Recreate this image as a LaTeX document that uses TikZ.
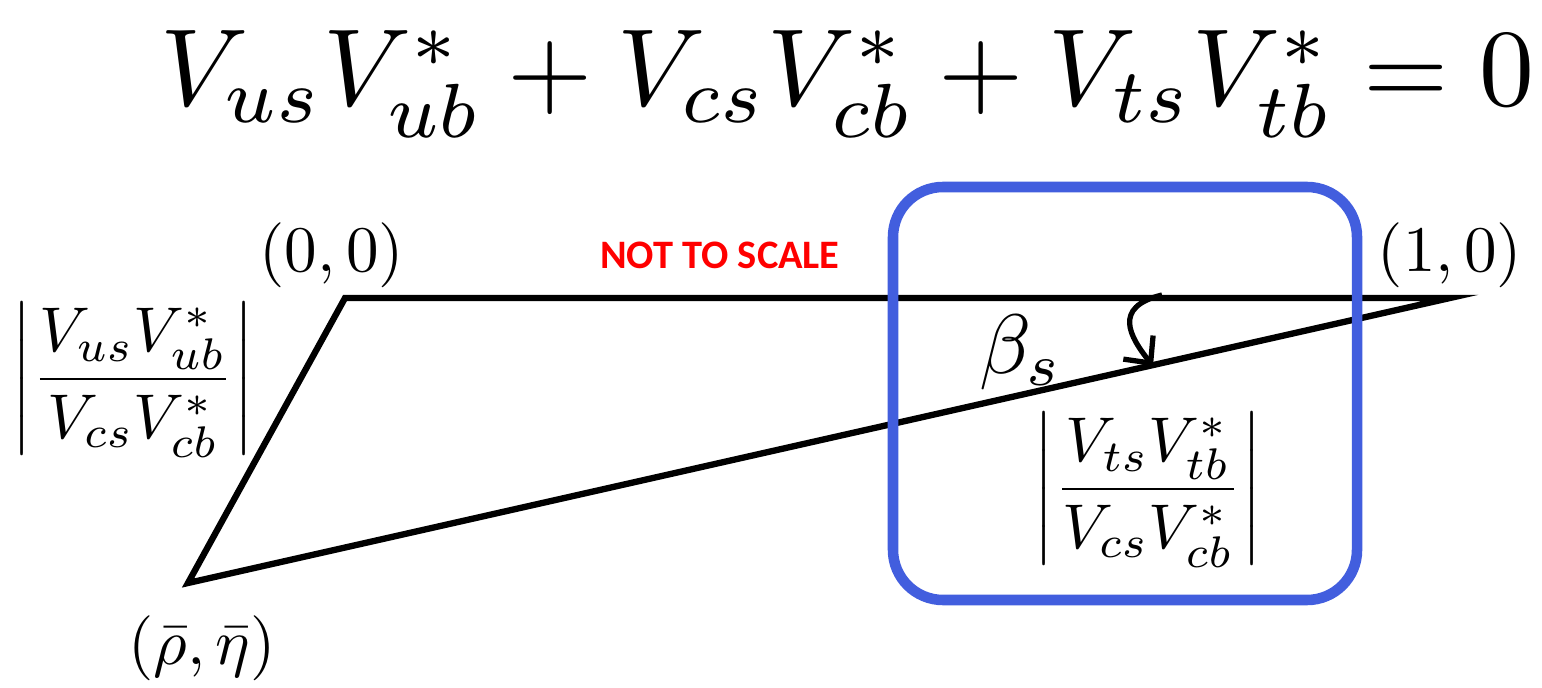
\documentclass[tikz,border=0pt]{standalone}
\usepackage{amsmath,amssymb}
\usepackage{fontspec}
\newfontfamily\notefont{Carlito}
\usetikzlibrary{arrows.meta}
\definecolor{boxblue}{RGB}{66,94,222}
\tikzset{
  side/.style={line width=1.8pt},
  corner/.style={scale=1.85},
}

\begin{document}
\begin{tikzpicture}
    \useasboundingbox (0,0) rectangle (15.42,6.87);
    % Unitarity relation
    \node[anchor=base, scale=3.12, inner sep=0pt] (rel) at (8.475,5.81)
        {$V_{us}V_{ub}^{*}+V_{cs}V_{cb}^{*}+V_{ts}V_{tb}^{*}=0$};
    % Triangle
    \coordinate (O) at (3.45,3.89);
    \coordinate (A) at (14.50,3.89);
    \coordinate (R) at (1.88,1.04);
    \draw[side] (R) -- (O) -- (A) -- cycle;
    % Corners
    \node[corner] (lO) at (3.32,4.32) {$(0,0)$};
    \node[corner] (lA) at (14.50,4.32) {$(1,0)$};
    \node[corner, inner sep=0pt] (lR) at (2.02,0.39) {$(\bar\rho,\bar\eta)$};
    % Sides
    \node[scale=1.8] (sl) at (1.33,3.07) {$\left|\dfrac{V_{us}V_{ub}^{*}}{V_{cs}V_{cb}^{*}}\right|$};
    \node[scale=1.8] (sr) at (11.48,1.97) {$\left|\dfrac{V_{ts}V_{tb}^{*}}{V_{cs}V_{cb}^{*}}\right|$};
    \node[text=red, font=\notefont\bfseries\fontsize{11.5}{14}\selectfont] (nts) at (7.20,4.32) {NOT TO SCALE};
    % Angle
    \node[scale=2.4] (beta) at (10.21,3.35) {$\beta_s$};
    \coordinate (bt) at (11.62,3.92);
    \coordinate (bb) at (11.53,3.21);
    \draw[line width=1.5pt, -{Straight Barb[length=2mm, width=3.8mm, line width=1.5pt]}]
        (bt) .. controls (11.12,3.80) and (11.30,3.50) .. (bb);
    % Highlight
    \draw[boxblue, line width=3pt, rounded corners=0.5cm] (8.93,0.87) rectangle (13.57,5.00);
\end{tikzpicture}
\end{document}
